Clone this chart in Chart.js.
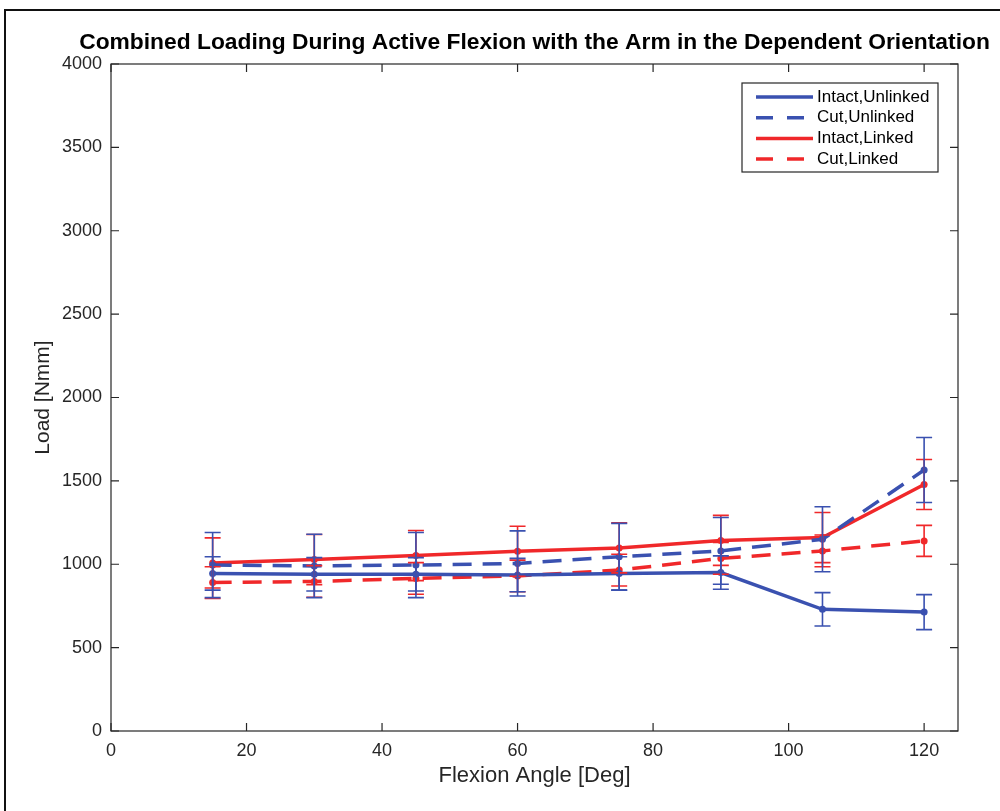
<!DOCTYPE html>
<html>
<head>
<meta charset="utf-8">
<script src="https://cdn.jsdelivr.net/npm/chart.js@4.4.1/dist/chart.umd.min.js"></script>
<style>
  html, body { margin: 0; padding: 0; background: #fff; overflow: hidden; }
  #wrap { position: relative; width: 1000px; height: 811px; }
  #frame { position: absolute; left: 4px; top: 9px; width: 1100px; height: 900px; border: 2px solid #111; }
  #c { position: absolute; left: 0; top: 0; }
</style>
</head>
<body>
<div id="wrap">
  <div id="frame"></div>
  <canvas id="c" width="1000" height="811"></canvas>
</div>
<script>
// Flexion angles (deg)
const xAngles = [15, 30, 45, 60, 75, 90, 105, 120];

// Mean loads (Nmm)
const intactUnlinked = [945, 940, 940, 935, 945, 950, 730, 713];
const cutUnlinked = [995, 990, 995, 1005, 1045, 1080, 1150, 1565];
const intactLinked = [1008, 1028, 1052, 1078, 1098, 1143, 1160, 1478];
const cutLinked = [890, 897, 915, 930, 965, 1035, 1080, 1140];

// Error bar half-lengths (Nmm)
const intactUnlinkedErr = [100, 100, 100, 100, 100, 100, 100, 105];
const cutUnlinkedErr = [195, 190, 195, 195, 200, 200, 195, 195];
const intactLinkedErr = [150, 150, 150, 150, 150, 150, 150, 150];
const cutLinkedErr = [95, 95, 95, 95, 95, 95, 95, 93];

// Tick labels
const xTicks = [0, 20, 40, 60, 80, 100, 120];
const yTicks = [0, 500, 1000, 1500, 2000, 2500, 3000, 3500, 4000];

const chartTitle = 'Combined Loading During Active Flexion with the Arm in the Dependent Orientation';

const BLUE = '#3a51b0';
const RED = '#f0282a';
const AXIS = '#262626';
const FONT = '"Liberation Sans", Arial, Helvetica, sans-serif';

function series(label, values, errors, color, dashed) {
  return {
    label: label,
    data: xAngles.map((x, i) => ({ x: x, y: values[i] })),
    errors: errors,
    borderColor: color,
    backgroundColor: color,
    borderWidth: 3.5,
    borderDash: dashed ? [19, 11] : [],
    pointRadius: 3.5,
    pointBorderWidth: 0,
    pointBackgroundColor: color,
    tension: 0
  };
}

// Title centred over the plot area (may run wider than it, like MATLAB)
const plotTitle = {
  id: 'plotTitle',
  afterDraw(chart) {
    const { ctx, chartArea: a } = chart;
    ctx.save();
    ctx.font = 'bold 22.8px ' + FONT;
    ctx.fillStyle = '#000';
    ctx.textAlign = 'center';
    ctx.textBaseline = 'middle';
    ctx.fillText(chartTitle, (a.left + a.right) / 2, 43);
    ctx.restore();
  }
};

// Axes box with inward ticks on all four sides
const axesBox = {
  id: 'axesBox',
  beforeDatasetsDraw(chart) {
    const { ctx, chartArea: a, scales: { x, y } } = chart;
    ctx.save();
    ctx.strokeStyle = AXIS;
    ctx.lineWidth = 1.2;
    ctx.strokeRect(a.left, a.top, a.right - a.left, a.bottom - a.top);
    ctx.beginPath();
    xTicks.forEach(v => {
      const px = x.getPixelForValue(v);
      ctx.moveTo(px, a.bottom); ctx.lineTo(px, a.bottom - 8);
      ctx.moveTo(px, a.top); ctx.lineTo(px, a.top + 8);
    });
    yTicks.forEach(v => {
      const py = y.getPixelForValue(v);
      ctx.moveTo(a.left, py); ctx.lineTo(a.left + 8, py);
      ctx.moveTo(a.right, py); ctx.lineTo(a.right - 8, py);
    });
    ctx.stroke();
    ctx.restore();
  }
};

// Vertical error bars with caps, red first so blue sits on top
const errorBars = {
  id: 'errorBars',
  afterDatasetsDraw(chart) {
    const { ctx, scales: { x, y } } = chart;
    ctx.save();
    ctx.lineWidth = 1.6;
    ctx.setLineDash([]);
    [3, 2, 1, 0].forEach(i => {
      const ds = chart.data.datasets[i];
      ctx.strokeStyle = ds.borderColor;
      ctx.beginPath();
      ds.data.forEach((p, j) => {
        const px = x.getPixelForValue(p.x);
        const top = y.getPixelForValue(p.y + ds.errors[j]);
        const bot = y.getPixelForValue(p.y - ds.errors[j]);
        ctx.moveTo(px, top); ctx.lineTo(px, bot);
        ctx.moveTo(px - 8, top); ctx.lineTo(px + 8, top);
        ctx.moveTo(px - 8, bot); ctx.lineTo(px + 8, bot);
      });
      ctx.stroke();
    });
    ctx.restore();
  }
};

// Boxed legend in the upper right corner of the plot
const boxLegend = {
  id: 'boxLegend',
  afterDraw(chart) {
    const { ctx, chartArea: a } = chart;
    const w = 196, h = 89;
    const left = a.right - 216, top = a.top + 19;
    ctx.save();
    ctx.fillStyle = '#fff';
    ctx.fillRect(left, top, w, h);
    ctx.strokeStyle = AXIS;
    ctx.lineWidth = 1.2;
    ctx.strokeRect(left, top, w, h);
    ctx.font = '17px ' + FONT;
    ctx.textBaseline = 'middle';
    ctx.textAlign = 'left';
    chart.data.datasets.forEach((ds, i) => {
      const cy = top + 14 + i * 20.7;
      ctx.strokeStyle = ds.borderColor;
      ctx.lineWidth = 3.5;
      ctx.setLineDash(ds.borderDash.length ? [17, 14] : []);
      ctx.beginPath();
      ctx.moveTo(left + 14, cy);
      ctx.lineTo(left + 71, cy);
      ctx.stroke();
      ctx.setLineDash([]);
      ctx.fillStyle = '#000';
      ctx.fillText(ds.label, left + 75, cy);
    });
    ctx.restore();
  }
};

new Chart(document.getElementById('c'), {
  type: 'line',
  data: {
    datasets: [
      series('Intact,Unlinked', intactUnlinked, intactUnlinkedErr, BLUE, false),
      series('Cut,Unlinked', cutUnlinked, cutUnlinkedErr, BLUE, true),
      series('Intact,Linked', intactLinked, intactLinkedErr, RED, false),
      series('Cut,Linked', cutLinked, cutLinkedErr, RED, true)
    ]
  },
  options: {
    responsive: false,
    animation: false,
    devicePixelRatio: 1,
    layout: { padding: { left: 0, right: 42, top: 64, bottom: 0 } },
    plugins: {
      legend: { display: false },
      tooltip: { enabled: false },
      title: { display: false }
    },
    scales: {
      x: {
        type: 'linear',
        min: 0,
        max: 125,
        afterBuildTicks: s => { s.ticks = xTicks.map(v => ({ value: v })); },
        afterFit: s => { s.height = 80; },
        grid: { display: false, drawTicks: false },
        border: { display: false },
        ticks: { color: AXIS, padding: 9, font: { family: FONT, size: 18 }, callback: v => String(v) },
        title: {
          display: true,
          text: 'Flexion Angle [Deg]',
          color: AXIS,
          font: { family: FONT, size: 22 },
          padding: { top: 0, bottom: 22 }
        }
      },
      y: {
        type: 'linear',
        min: 0,
        max: 4000,
        afterBuildTicks: s => { s.ticks = yTicks.map(v => ({ value: v })); },
        afterFit: s => { s.width = 111; },
        grid: { display: false, drawTicks: false },
        border: { display: false },
        ticks: { color: AXIS, padding: 9, font: { family: FONT, size: 18 }, callback: v => String(v) },
        title: {
          display: true,
          text: 'Load [Nmm]',
          color: AXIS,
          font: { family: FONT, size: 21 },
          padding: { top: 31, bottom: 0 }
        }
      }
    }
  },
  plugins: [plotTitle, axesBox, errorBars, boxLegend]
});
</script>
</body>
</html>
